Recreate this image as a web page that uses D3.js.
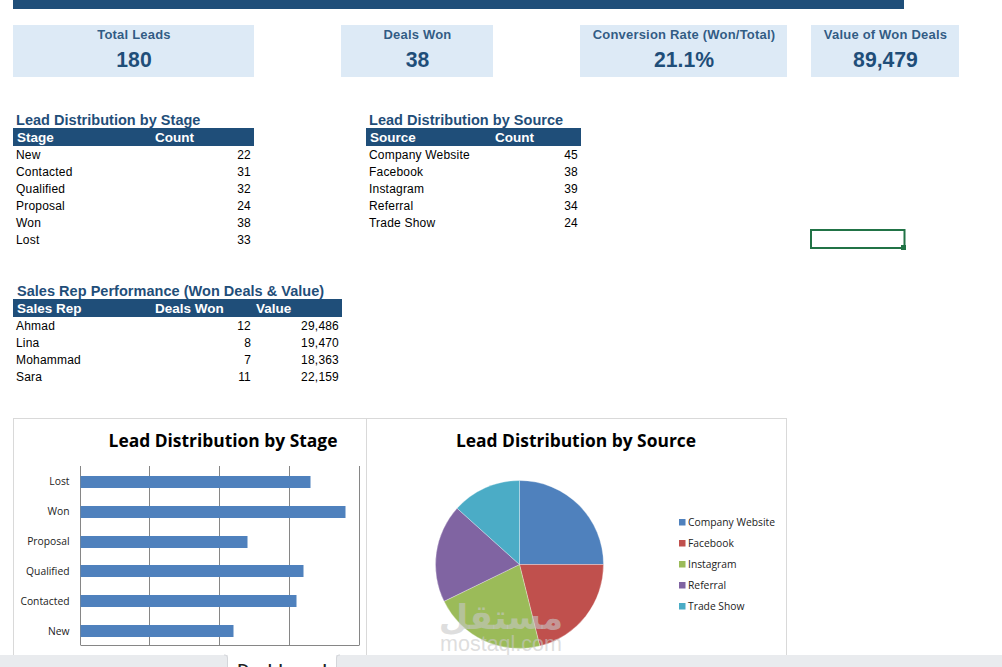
<!DOCTYPE html>
<html><head><meta charset="UTF-8"><script src="https://d3js.org/d3.v7.min.js"></script>
<style>
body{margin:0;background:#fff;overflow:hidden}
svg{display:block}
text{font-family:"Liberation Sans",Arial,sans-serif}
.cell{font-size:12px;fill:#000;letter-spacing:.2px}
.head{font-size:13.5px;font-weight:bold;fill:#fff}
.section{font-size:14.5px;font-weight:bold;fill:#1f4e79;letter-spacing:.03px}
.kpi-label{font-size:13px;font-weight:bold;fill:#1f4e79;fill-opacity:.92;letter-spacing:.2px}
.kpi-value{font-size:21.2px;font-weight:bold;fill:#1f4e79}
.chart-title{font-family:"Open Sans",sans-serif;font-size:17.4px;font-weight:bold;fill:#000}
.axis-label,.legend-label{font-family:"Open Sans",sans-serif;font-size:10.3px;fill:#222}
</style></head><body><svg id="sheet" width="1002" height="667"></svg><script>
const kpiLabels = ['Total Leads', 'Deals Won', 'Conversion Rate (Won/Total)', 'Value of Won Deals'];
const kpiValues = ['180', '38', '21.1%', '89,479'];
const stages = ['New', 'Contacted', 'Qualified', 'Proposal', 'Won', 'Lost'];
const stageCounts = [22, 31, 32, 24, 38, 33];
const sources = ['Company Website', 'Facebook', 'Instagram', 'Referral', 'Trade Show'];
const sourceCounts = [45, 38, 39, 34, 24];
const reps = ['Ahmad', 'Lina', 'Mohammad', 'Sara'];
const repDeals = [12, 8, 7, 11];
const repValues = [29486, 19470, 18363, 22159];
const stageTicks = [10, 20, 30, 40];
const pieColors = ['#4f81bd', '#c0504d', '#9bbb59', '#8064a2', '#4bacc6'];

const NAVY = '#1f4e79';
const svg = d3.select('#sheet');
const fmt = d3.format(',');

svg.append('rect').attr('x', 13).attr('y', 0).attr('width', 891).attr('height', 9).attr('fill', NAVY);

// kpi boxes
const kpiBoxes = [[13, 241], [341, 152], [580, 207], [811, 148]];
kpiBoxes.forEach(([x, w], i) => {
  svg.append('rect').attr('x', x).attr('y', 25).attr('width', w).attr('height', 52).attr('fill', '#ddeaf6');
  svg.append('text').attr('class', 'kpi-label').attr('x', x + w / 2 + 0.5).attr('y', 39)
    .attr('text-anchor', 'middle').text(kpiLabels[i]);
  svg.append('text').attr('class', 'kpi-value').attr('x', x + w / 2 + 0.5).attr('y', 67)
    .attr('text-anchor', 'middle').text(kpiValues[i]);
});

// tables: columns are [header x, value right edge]
function drawTable(x, y, w, title, titleX, headers, headerXs, rows, rightEdges) {
  svg.append('text').attr('class', 'section').attr('x', titleX).attr('y', y - 3.5).text(title);
  svg.append('rect').attr('x', x).attr('y', y).attr('width', w).attr('height', 18).attr('fill', NAVY);
  headers.forEach((h, i) => {
    svg.append('text').attr('class', 'head').attr('x', headerXs[i]).attr('y', y + 14).text(h);
  });
  rows.forEach((row, r) => {
    const ty = y + 31 + r * 17;
    svg.append('text').attr('class', 'cell').attr('x', x + 3).attr('y', ty).text(row[0]);
    row.slice(1).forEach((v, c) => {
      svg.append('text').attr('class', 'cell').attr('x', rightEdges[c]).attr('y', ty)
        .attr('text-anchor', 'end').text(v);
    });
  });
}
drawTable(13, 128, 241, 'Lead Distribution by Stage', 16, ['Stage', 'Count'], [17, 155],
  stages.map((s, i) => [s, stageCounts[i]]), [251]);
drawTable(366, 128, 215, 'Lead Distribution by Source', 369, ['Source', 'Count'], [370, 495],
  sources.map((s, i) => [s, sourceCounts[i]]), [578]);
drawTable(13, 299, 329, 'Sales Rep Performance (Won Deals & Value)', 17, ['Sales Rep', 'Deals Won', 'Value'], [17, 155, 256],
  reps.map((s, i) => [s, repDeals[i], fmt(repValues[i])]), [251, 339]);

// selected cell
svg.append('rect').attr('x', 811).attr('y', 230).attr('width', 93.5).attr('height', 18)
  .attr('fill', 'none').attr('stroke', '#217346').attr('stroke-width', 2);
svg.append('rect').attr('x', 901).attr('y', 245).attr('width', 5).attr('height', 5).attr('fill', '#217346');

// chart frames
svg.append('rect').attr('x', 13.5).attr('y', 418.5).attr('width', 353).attr('height', 260)
  .attr('fill', '#fff').attr('stroke', '#d9d9d9');
svg.append('rect').attr('x', 366.5).attr('y', 418.5).attr('width', 420).attr('height', 260)
  .attr('fill', '#fff').attr('stroke', '#d9d9d9');
svg.append('text').attr('class', 'chart-title').attr('x', 223).attr('y', 447).attr('text-anchor', 'middle').text('Lead Distribution by Stage');
svg.append('text').attr('class', 'chart-title').attr('x', 576).attr('y', 447).attr('text-anchor', 'middle').text('Lead Distribution by Source');

// bar chart, zero line sits 1px right of the scale origin like the excel render
const xBar = d3.scaleLinear().domain([0, 40]).range([79.5, 359.5]);
const yBar = d3.scaleBand().domain(stages.slice().reverse()).range([467, 646]).paddingInner(0.6).paddingOuter(0.3);
const axisX = xBar(0) + 1;
svg.append('g').attr('stroke', '#868686').selectAll('line').data(stageTicks).join('line')
  .attr('x1', d => xBar(d)).attr('x2', d => xBar(d)).attr('y1', 466).attr('y2', 645);
svg.append('line').attr('x1', axisX).attr('x2', axisX).attr('y1', 466).attr('y2', 645).attr('stroke', '#868686');
svg.append('line').attr('x1', axisX).attr('x2', xBar(40)).attr('y1', 645.5).attr('y2', 645.5).attr('stroke', '#868686');
svg.append('g').selectAll('rect').data(stages).join('rect')
  .attr('x', axisX).attr('y', d => Math.round(yBar(d)))
  .attr('width', (d, i) => xBar(stageCounts[i]) - axisX).attr('height', 12)
  .attr('fill', '#4f81bd');
svg.append('g').selectAll('text').data(stages).join('text').attr('class', 'axis-label')
  .attr('x', 69.5).attr('y', d => yBar(d) + 9.4)
  .attr('text-anchor', 'end').text(d => d);

// pie
const pie = d3.pie().sort(null)(sourceCounts);
const arc = d3.arc().innerRadius(0).outerRadius(84);
svg.append('g').attr('transform', 'translate(519.5,564.5)').selectAll('path').data(pie).join('path')
  .attr('d', arc).attr('fill', (d, i) => pieColors[i]).attr('stroke', '#fff').attr('stroke-opacity', 0.5).attr('stroke-width', 0.6);

// legend
const yLegend = d3.scalePoint().domain(sources).range([522, 606]);
svg.append('g').selectAll('rect').data(sources).join('rect')
  .attr('x', 679).attr('y', d => yLegend(d) - 3).attr('width', 6.5).attr('height', 6.5)
  .attr('fill', (d, i) => pieColors[i]);
svg.append('g').selectAll('text').data(sources).join('text').attr('class', 'legend-label')
  .attr('x', 688).attr('y', d => yLegend(d) + 4).text(d => d);

// watermark
svg.append('text').attr('x', 501).attr('y', 629).attr('text-anchor', 'middle').attr('fill', '#c8c8c8').attr('fill-opacity', .6)
  .style('font-family', '"DejaVu Sans"').style('font-size', '34px').style('font-weight', 'bold').text('مستقل');
svg.append('text').attr('x', 501).attr('y', 651).attr('text-anchor', 'middle').attr('fill', '#c8c8c8').attr('fill-opacity', .6)
  .style('font-size', '21.5px').text('mostaql.com');

// sheet tabs
svg.append('rect').attr('x', 0).attr('y', 655).attr('width', 1002).attr('height', 12).attr('fill', '#e9ebee');
svg.append('rect').attr('x', 228).attr('y', 655).attr('width', 108).attr('height', 12).attr('fill', '#fff');
svg.append('path').attr('d', 'M224 655h1q2.5 0 2.5 3V667M340 655h-1q-2.5 0-2.5 3V667').attr('fill', 'none').attr('stroke', '#d4d6da');
svg.append('text').attr('x', 282).attr('y', 676).attr('text-anchor', 'middle')
  .style('font-family', '"Open Sans"').style('font-size', '17px').style('font-weight', '600').attr('fill', '#222').text('Dashboard');
</script></body></html>
